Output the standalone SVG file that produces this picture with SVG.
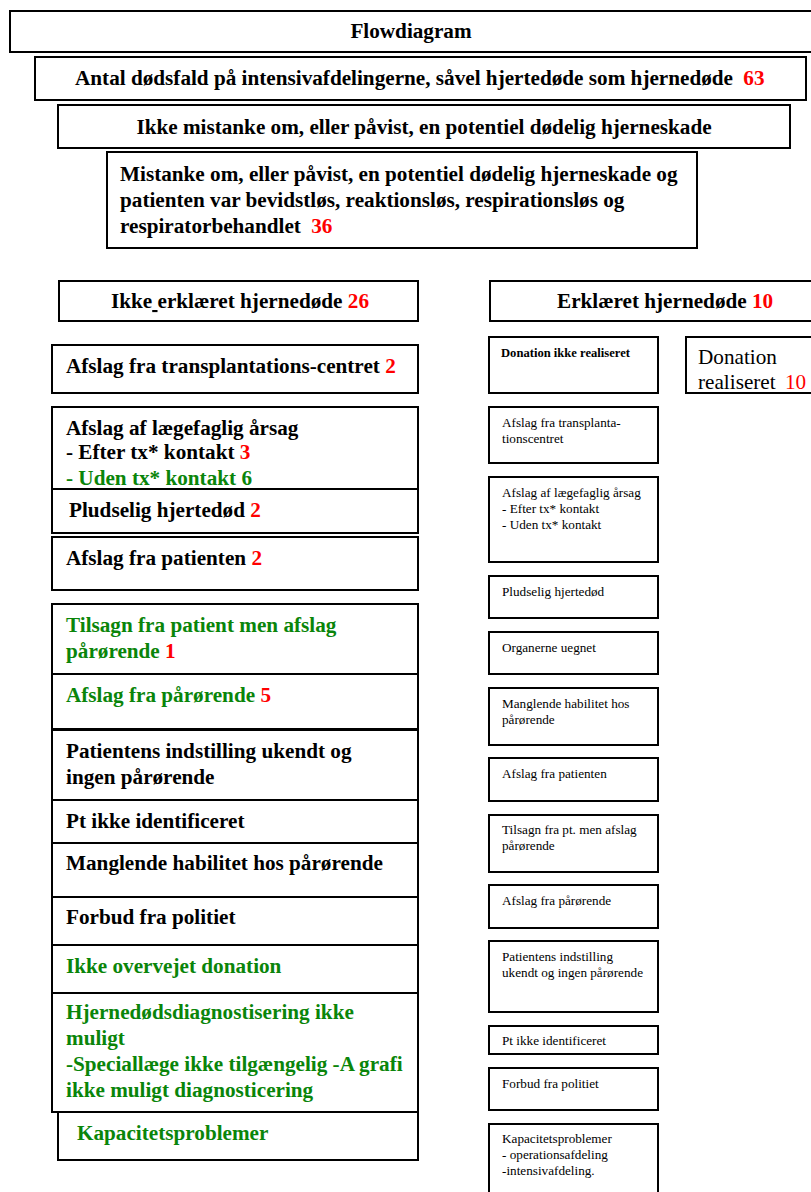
<svg xmlns="http://www.w3.org/2000/svg" width="811" height="1192" viewBox="0 0 811 1192">
<style>
rect{fill:#fff;stroke:#000;stroke-width:2}
text{font-family:"Liberation Serif","Times New Roman",serif;fill:#000}
.b{font-weight:bold;font-size:21.2px}
.s{font-size:13.2px}
.sb{font-size:12.6px;font-weight:bold}
.r{fill:#ff0000}
.g{fill:#0a850a}
</style>
<rect x="0" y="0" width="811" height="1192" style="stroke:none"/>
<g id="title"><rect x="10" y="11" width="806" height="41"/><text class="b" x="411" y="38" text-anchor="middle">Flowdiagram</text></g>
<g id="antal"><rect x="35" y="57" width="771" height="43"/><text class="b" x="75" y="85">Antal dødsfald på intensivafdelingerne, såvel hjertedøde som hjernedøde <tspan class="r" dx="5">63</tspan></text></g>
<g id="ikke-mistanke"><rect x="58" y="105" width="732" height="43"/><text class="b" x="424" y="134" text-anchor="middle">Ikke mistanke om, eller påvist, en potentiel dødelig hjerneskade</text></g>
<g id="mistanke"><rect x="107" y="152" width="590" height="96"/><text class="b" x="120"><tspan x="120" y="181">Mistanke om, eller påvist, en potentiel dødelig hjerneskade og</tspan><tspan x="120" y="207">patienten var bevidstløs, reaktionsløs, respirationsløs og</tspan><tspan x="120" y="233">respiratorbehandlet <tspan class="r" dx="5">36</tspan></tspan></text></g>
<g id="ikke-erklaeret"><rect x="59" y="281" width="359" height="40"/><text class="b" x="111" y="308">Ikke<tspan text-decoration="underline"> </tspan>erklæret hjernedøde <tspan class="r">26</tspan></text></g>
<g id="erklaeret"><rect x="490" y="281" width="326" height="40"/><text class="b" x="557" y="308">Erklæret hjernedøde <tspan class="r">10</tspan></text></g>
<g id="l1"><rect x="52" y="345" width="366" height="48"/><text class="b" x="66" y="373">Afslag fra transplantations-centret <tspan class="r">2</tspan></text></g>
<g id="l2"><rect x="52" y="407" width="366" height="82"/><text class="b"><tspan x="66" y="435">Afslag af lægefaglig årsag</tspan><tspan x="66" y="459">- Efter tx* kontakt <tspan class="r">3</tspan></tspan><tspan x="66" y="485" class="g">- Uden tx* kontakt 6</tspan></text></g>
<g id="l3"><rect x="52" y="489" width="366" height="44"/><text class="b" x="69" y="517">Pludselig hjertedød <tspan class="r">2</tspan></text></g>
<g id="l4"><rect x="52" y="537" width="366" height="53"/><text class="b" x="66" y="565">Afslag fra patienten <tspan class="r">2</tspan></text></g>
<g id="l5"><rect x="52" y="604" width="366" height="70"/><text class="b g"><tspan x="66" y="632">Tilsagn fra patient men afslag</tspan><tspan x="66" y="658">pårørende <tspan class="r">1</tspan></tspan></text></g>
<g id="l6"><rect x="52" y="674" width="366" height="55"/><text class="b g" x="66" y="702">Afslag fra pårørende <tspan class="r">5</tspan></text></g>
<g id="l7"><rect x="52" y="730" width="366" height="70"/><text class="b"><tspan x="66" y="758">Patientens indstilling ukendt og</tspan><tspan x="66" y="784">ingen pårørende</tspan></text></g>
<g id="l8"><rect x="52" y="800" width="366" height="43"/><text class="b" x="66" y="828">Pt ikke identificeret</text></g>
<g id="l9"><rect x="52" y="843" width="366" height="54"/><text class="b" x="66" y="870">Manglende habilitet hos pårørende</text></g>
<g id="l10"><rect x="52" y="897" width="366" height="48"/><text class="b" x="66" y="924">Forbud fra politiet</text></g>
<g id="l11"><rect x="52" y="945" width="366" height="48"/><text class="b g" x="66" y="973">Ikke overvejet donation</text></g>
<g id="l12"><rect x="52" y="993" width="366" height="119"/><text class="b g"><tspan x="66" y="1019">Hjernedødsdiagnostisering ikke</tspan><tspan x="66" y="1045">muligt</tspan><tspan x="66" y="1071">-Speciallæge ikke tilgængelig -A grafi</tspan><tspan x="66" y="1097">ikke muligt diagnosticering</tspan></text></g>
<g id="l13"><rect x="58" y="1112" width="360" height="48"/><text class="b g" x="77" y="1140">Kapacitetsproblemer</text></g>
<g id="r0"><rect x="489" y="337" width="169" height="56"/><text class="sb" x="501" y="357">Donation ikke realiseret</text></g>
<g id="realiseret"><rect x="686" y="337" width="130" height="56"/><text style="font-size:21.2px"><tspan x="698" y="364">Donation</tspan><tspan x="698" y="389">realiseret <tspan class="r" dx="4">10</tspan></tspan></text></g>
<g id="r1"><rect x="489" y="407" width="169" height="56"/><text class="s"><tspan x="502" y="427">Afslag fra transplanta-</tspan><tspan x="502" y="443">tionscentret</tspan></text></g>
<g id="r2"><rect x="489" y="477" width="169" height="85"/><text class="s"><tspan x="502" y="497">Afslag af lægefaglig årsag</tspan><tspan x="502" y="513">- Efter tx* kontakt</tspan><tspan x="502" y="529">- Uden tx* kontakt</tspan></text></g>
<g id="r3"><rect x="489" y="576" width="169" height="42"/><text class="s" x="502" y="596">Pludselig hjertedød</text></g>
<g id="r4"><rect x="489" y="632" width="169" height="42"/><text class="s" x="502" y="652">Organerne uegnet</text></g>
<g id="r5"><rect x="489" y="688" width="169" height="57"/><text class="s"><tspan x="502" y="708">Manglende habilitet hos</tspan><tspan x="502" y="724">pårørende</tspan></text></g>
<g id="r6"><rect x="489" y="758" width="169" height="43"/><text class="s" x="502" y="778">Afslag fra patienten</text></g>
<g id="r7"><rect x="489" y="815" width="169" height="57"/><text class="s"><tspan x="502" y="834">Tilsagn fra pt. men afslag</tspan><tspan x="502" y="850">pårørende</tspan></text></g>
<g id="r8"><rect x="489" y="885" width="169" height="43"/><text class="s" x="502" y="905">Afslag fra pårørende</text></g>
<g id="r9"><rect x="489" y="941" width="169" height="71"/><text class="s"><tspan x="502" y="961">Patientens indstilling</tspan><tspan x="502" y="977">ukendt og ingen pårørende</tspan></text></g>
<g id="r10"><rect x="489" y="1026" width="169" height="28"/><text class="s" x="502" y="1045">Pt ikke identificeret</text></g>
<g id="r11"><rect x="489" y="1068" width="169" height="42"/><text class="s" x="502" y="1088">Forbud fra politiet</text></g>
<g id="r12"><rect x="489" y="1124" width="169" height="72"/><text class="s"><tspan x="502" y="1143">Kapacitetsproblemer</tspan><tspan x="502" y="1159">- operationsafdeling</tspan><tspan x="502" y="1175">-intensivafdeling.</tspan></text></g>
<g id="connectors"/>
</svg>
